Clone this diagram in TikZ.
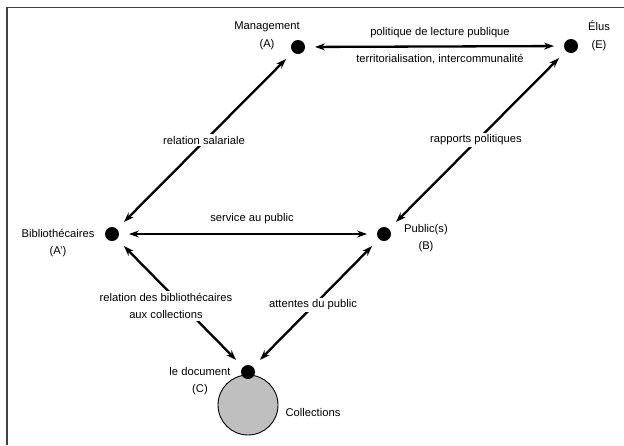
\documentclass[tikz,border=0pt]{standalone}
\usepackage{fontspec}
\setmainfont{Liberation Sans}
\usetikzlibrary{arrows.meta}
\begin{document}
\begin{tikzpicture}[x=1pt,y=-1pt,
  dot/.style={circle,fill=black,inner sep=0pt,minimum size=14pt,outer sep=0pt},
  lbl/.style={font=\fontsize{11.2}{17.5}\selectfont,align=center,inner sep=1pt},
  cut/.style={lbl,fill=white,inner sep=2pt},
  conn/.style={line width=2.3pt,{Stealth[length=10pt,width=7pt]}-{Stealth[length=10pt,width=7pt]},shorten <=10pt,shorten >=10pt},
  frame/.style={line width=1.5pt,draw=black!75}]
\useasboundingbox (0,0) rectangle (624,445);
\draw[frame] (7,445) -- (7,7.5) -- (624,7.5);
% dots
\node[dot] (A) at (298,47) {};
\node[dot] (E) at (571,46) {};
\node[dot] (Ap) at (112,234) {};
\node[dot] (B) at (384,234) {};
\node[circle,draw=black,line width=0.9pt,fill=black!25,minimum size=60pt,inner sep=0pt] (coll) at (248,405) {};
\node[dot] (C) at (248,372) {};
% labels of dots
\node[lbl] (tA) at (267,36) {Management\\(A)};
\node[lbl] (tE) at (599,36) {Élus\\(E)};
\node[lbl] (tAp) at (58,243) {Bibliothécaires\\(A’)};
\node[lbl] (tB) at (426,238) {Public(s)\\(B)};
\node[lbl] (tC) at (200,381) {le document\\(C)};
\node[lbl] (tcoll) at (313,412) {Collections};
% connectors
\draw[conn] (A) -- (E);
\draw[conn] (Ap) -- (B);
\draw[conn] (A) -- (Ap);
\draw[conn] (E) -- (B);
\draw[conn] (Ap) -- (C);
\draw[conn] (B) -- (C);
% connector labels
\node[lbl] (l1) at (440,33) {politique de lecture publique};
\node[lbl] (l2) at (440,59) {territorialisation, intercommunalité};
\node[lbl] (l3) at (252,219) {service au public};
\node[cut] (l4) at (204,140) {relation salariale};
\node[cut] (l5) at (476,140) {rapports politiques};
\node[cut] (l6) at (166,306) {relation des bibliothécaires\\aux collections};
\node[cut] (l7) at (313,305) {attentes du public};
\end{tikzpicture}
\end{document}
